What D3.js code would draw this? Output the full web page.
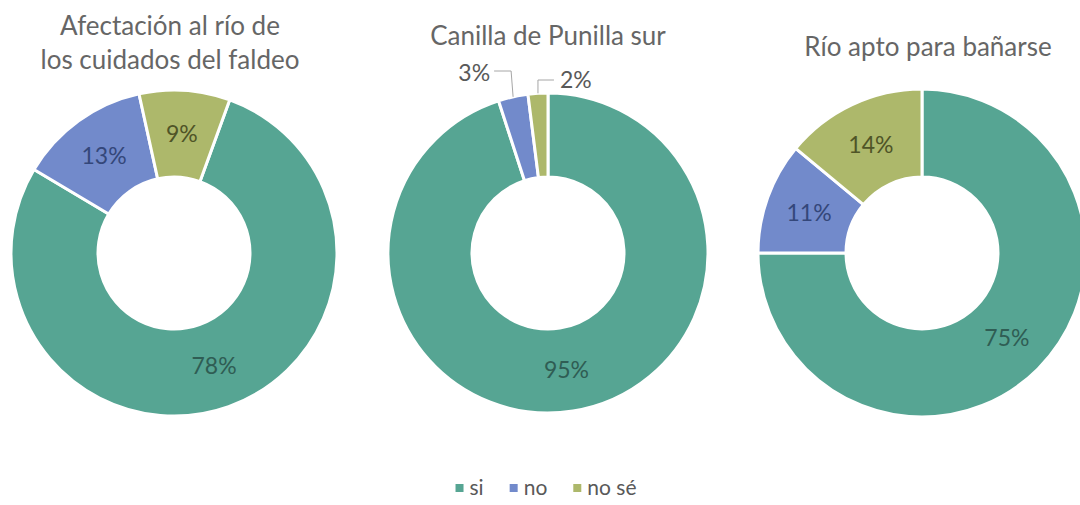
<!DOCTYPE html>
<html>
<head>
<meta charset="utf-8">
<script src="https://cdn.jsdelivr.net/npm/d3@7"></script>
<style>
  html, body { margin: 0; padding: 0; background: #fff; }
  svg { display: block; font-family: Lato, "Noto Sans", sans-serif; }
</style>
</head>
<body>
<svg id="chart" width="1080" height="505"></svg>
<script>
// Survey answers, one donut per question
const categories = ["si", "no", "no sé"];
const titles = [
  ["Afectación al río de", "los cuidados del faldeo"],
  ["Canilla de Punilla sur"],
  ["Río apto para bañarse"]
];
const afectacion = [78, 13, 9];
const canilla = [95, 3, 2];
const rioApto = [75, 11, 14];
const series = [afectacion, canilla, rioApto];
// rotation of the first slice, degrees clockwise from 12 o'clock
const firstSliceAngle = [20, 0, 0];
// slices whose labels sit outside the ring with a leader line
const outsideLabels = [[], ["no", "no sé"], []];

const fills = ["#56a593", "#728acb", "#adb86b"];
const labelInk = ["#2f5d54", "#34477a", "#4f5427"];

const W = 1080, H = 505;
const svg = d3.select("#chart");
svg.append("rect").attr("width", W).attr("height", H).attr("fill", "#fff");

const color = d3.scaleOrdinal().domain(categories).range(fills);
const ink = d3.scaleOrdinal().domain(categories).range(labelInk);

// donut centres along the row
const cx = d3.scalePoint().domain(d3.range(series.length)).range([174, 922]);
const cy = 253;
const outerR = [163, 160, 164], innerR = 76;
const titleShift = [-4, 0, 6];

series.forEach((vals, i) => {
  const R = outerR[i];
  const arc = d3.arc().innerRadius(innerR).outerRadius(R);
  const midR = (innerR + R) / 2;
  const labelArc = d3.arc().innerRadius(midR).outerRadius(midR);
  const rot = firstSliceAngle[i] * Math.PI / 180;
  const arcs = d3.pie().sort(null).value(d => d.v)
    .startAngle(rot).endAngle(rot + 2 * Math.PI)(
      vals.map((v, k) => ({ cat: categories[k], v })));

  const g = svg.append("g").attr("transform", `translate(${cx(i)},${cy})`);

  g.selectAll("path.slice").data(arcs).join("path")
    .attr("class", "slice")
    .attr("d", arc)
    .attr("fill", d => color(d.data.cat))
    .attr("stroke", "#fff")
    .attr("stroke-width", 3)
    .attr("stroke-linejoin", "round");

  const inside = arcs.filter(d => !outsideLabels[i].includes(d.data.cat));
  const outside = arcs.filter(d => outsideLabels[i].includes(d.data.cat));

  g.selectAll("text.val").data(inside).join("text")
    .attr("class", "val")
    .attr("transform", d => `translate(${labelArc.centroid(d)})`)
    .attr("text-anchor", "middle")
    .attr("dy", "0.36em")
    .attr("font-size", 23)
    .attr("fill", d => ink(d.data.cat))
    .text(d => d.data.v + "%");

  // small slices: label above the ring, joined by an elbow line
  outside.forEach(d => {
    const mid = (d.startAngle + d.endAngle) / 2;
    const edge = [Math.sin(mid) * R, -Math.cos(mid) * R];
    const left = Math.sin(mid) < -0.15;
    const elbowY = -R - (left ? 22 : 13);
    const elbowX = edge[0] + (left ? -2 : 0);
    const endX = left ? elbowX - 17 : elbowX + 16;
    g.append("path")
      .attr("d", d3.line()([edge, [elbowX, elbowY], [endX, elbowY]]))
      .attr("fill", "none")
      .attr("stroke", "#a6a6a6")
      .attr("stroke-width", 1);
    g.append("text")
      .attr("x", left ? endX - 4 : endX + 6)
      .attr("y", elbowY + (left ? 2 : 0))
      .attr("dy", "0.36em")
      .attr("text-anchor", left ? "end" : "start")
      .attr("font-size", 23)
      .attr("fill", "#595959")
      .text(d.data.v + "%");
  });

  // title
  const tx = cx(i) + titleShift[i];
  const t = svg.append("text")
    .attr("text-anchor", "middle")
    .attr("font-size", 26)
    .attr("fill", "#666");
  const lines = titles[i];
  const firstBase = lines.length > 1 ? 35 : (i === 1 ? 45 : 56);
  lines.forEach((ln, k) => {
    t.append("tspan")
      .attr("x", tx)
      .attr("y", firstBase + k * 34)
      .text(ln);
  });
});

// legend
const legend = svg.append("g");
let x = 0;
const gap = 26;
categories.forEach((c) => {
  const item = legend.append("g").attr("transform", `translate(${x},0)`);
  item.append("rect").attr("x", 0).attr("y", -11).attr("width", 8).attr("height", 8)
    .attr("fill", color(c));
  const label = item.append("text").attr("x", 14).attr("y", 0)
    .attr("font-size", 21).attr("fill", "#595959").text(c);
  const w = 14 + label.node().getComputedTextLength();
  x += w + gap;
});
const lw = x - gap;
legend.attr("transform", `translate(${546 - lw / 2},${495})`);
</script>
</body>
</html>
